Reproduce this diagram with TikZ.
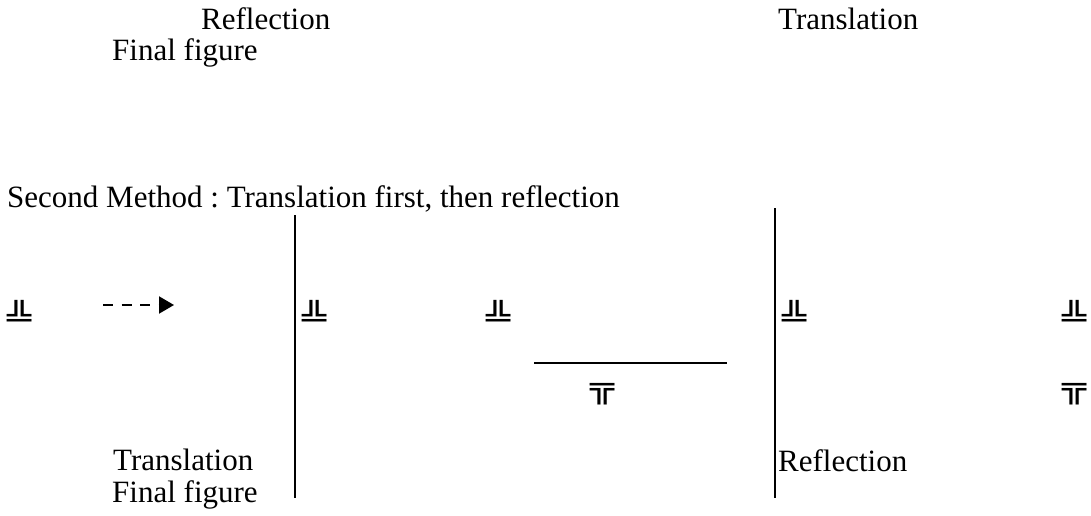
\documentclass[tikz,border=0pt]{standalone}
\usepackage{fontspec}
\setmainfont{Liberation Serif}
\newfontfamily\boxfont{DejaVu Sans Mono}
\usetikzlibrary{positioning, arrows.meta}

\newcommand{\figup}{\scalebox{1}[0.75]{\boxfont\fontsize{40pt}{40pt}\selectfont ╩}}
\newcommand{\figdown}{\scalebox{1}[0.75]{\boxfont\fontsize{40pt}{40pt}\selectfont ╦}}
\frenchspacing

\begin{document}
\begin{tikzpicture}[
    x=1pt, y=-1pt,
    label/.style={font=\fontsize{31pt}{36pt}\selectfont, inner sep=0pt, anchor=base west},
    figure/.style={inner sep=0pt, anchor=north west},
    mirror/.style={line width=2.5pt},
    arrow/.style={-{Triangle[length=15pt, width=17pt]}, line width=2pt, dash pattern=on 10pt off 8.5pt}
]
\useasboundingbox (0,0) rectangle (1091,516);

% Top captions
\node[label] (refltop) at (201, 30) {Reflection};
\node[label] (transtop) at (778, 30) {Translation};
\node[label] (finaltop) at (112, 61) {Final figure};

% Heading
\node[label] (method) at (7, 207) {Second Method : Translation first, then reflection};

% Mirror lines
\draw[mirror] (295, 215) -- (295, 498);
\draw[mirror] (775, 208) -- (775, 498);
\draw[line width=2pt] (534, 363) -- (727, 363);

% Figures
\node[figure] (f1) at (7, 300) {\figup};
\node[figure] (f2) at (302, 300) {\figup};
\node[figure] (f3) at (486, 300) {\figup};
\node[figure] (f4) at (782, 300) {\figup};
\node[figure] (f5) at (1062, 300) {\figup};
\node[figure] (g1) at (590, 383) {\figdown};
\node[figure] (g2) at (1062, 383) {\figdown};

% Dashed arrow
\coordinate (arrowstart) at (103, 305);
\coordinate (arrowend) at (174, 305);
\draw[arrow] (arrowstart) -- (arrowend);

% Bottom captions
\node[label] (transbot) at (113, 470) {Translation};
\node[label] (finalbot) at (112, 502) {Final figure};
\node[label] (reflbot) at (778, 471) {Reflection};

\end{tikzpicture}
\end{document}
